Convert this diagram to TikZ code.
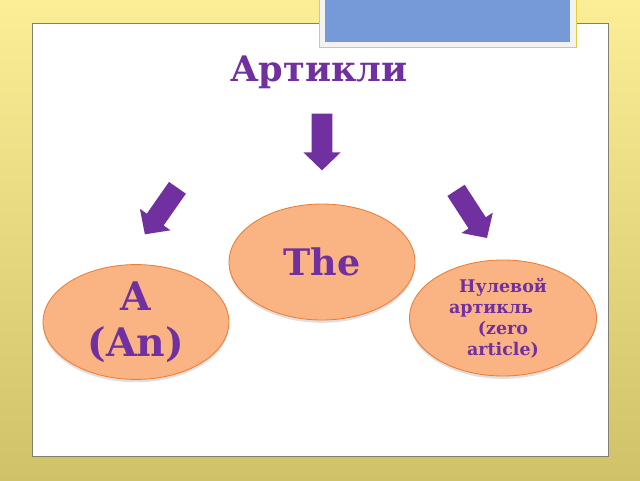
\documentclass[tikz,border=0pt]{standalone}
\usepackage{fontspec}
\setmainfont{DejaVu Serif}
\usepackage{tikz}
\usetikzlibrary{shapes.geometric, shapes.arrows, shadows, positioning}
\definecolor{mypurple}{RGB}{112,48,160}
\definecolor{myorange}{RGB}{237,125,49}
\definecolor{hdrorange}{RGB}{250,180,132}
\definecolor{bgtop}{RGB}{252,238,150}
\definecolor{bgbottom}{RGB}{208,194,104}
\definecolor{myframe}{RGB}{128,128,112}
\definecolor{myblue}{RGB}{118,153,216}
\definecolor{myyellow}{RGB}{230,205,60}
\tikzset{
  oval/.style={ellipse, draw=myorange, fill=hdrorange, line width=0.6pt,
    align=center, text=mypurple, font=\bfseries, inner sep=0pt,
    drop shadow={opacity=0.25, shadow xshift=0pt, shadow yshift=-2pt}},
  bigarrow/.style={single arrow, draw=none, fill=mypurple,
    minimum height=1.42cm, inner xsep=0pt, inner ysep=0.25cm,
    single arrow head extend=0.21cm, single arrow tip angle=92},
}
\begin{document}
\begin{tikzpicture}
  % background and slide panel
  \shade[top color=bgtop, bottom color=bgbottom] (0,0) rectangle (16,12);
  \useasboundingbox (0,0) rectangle (16,12);
  \draw[myframe, fill=white, line width=0.7pt] (0.8,0.6) rectangle (15.2,11.425);

  % picture frame at the top
  \draw[myyellow, fill=white!95!black, line width=0.6pt] (7.975,12.2) rectangle (14.4,10.825);
  \fill[myblue] (8.125,12.2) rectangle (14.25,10.95);

  % title
  \node[text=mypurple, font=\bfseries\fontsize{25}{29}\selectfont] (title) at (7.975,10.2) {Артикли};

  % arrows
  \node[bigarrow, rotate=-90] (arrmid) at (8.05,8.575) {};
  \node[bigarrow, rotate=235] (arrleft) at (4.1,6.825) {};
  \node[bigarrow, rotate=-57] (arrright) at (11.72,6.75) {};

  % articles
  \node[oval, minimum width=4.65cm, minimum height=2.9cm,
    font=\bfseries\fontsize{26}{30}\selectfont] (the) at (8.05,5.45) {The};
  \node[oval, minimum width=4.65cm, minimum height=2.8cm,
    font=\bfseries\fontsize{28}{33}\selectfont] (an) at (3.4,3.95) {A\\(An)};
  \node[oval, minimum width=4.675cm, minimum height=2.9cm,
    font=\bfseries\fontsize{12.4}{15}\selectfont] (zero) at (12.575,4.05)
    {Нулевой\\артикль\hspace*{0.6cm}\mbox{}\\(zero\\article)};
\end{tikzpicture}
\end{document}
